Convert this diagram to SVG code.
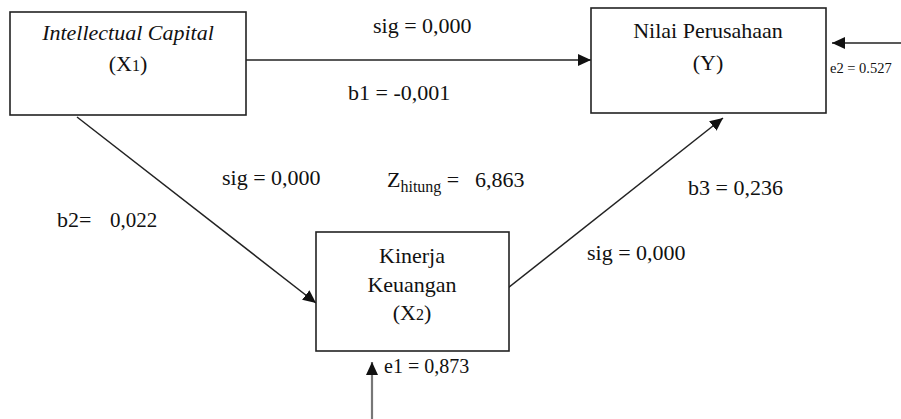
<svg xmlns="http://www.w3.org/2000/svg" width="901" height="419" viewBox="0 0 901 419">
  <defs>
    <marker id="arrow" markerUnits="userSpaceOnUse" markerWidth="14" markerHeight="12" refX="13" refY="6" orient="auto">
      <path d="M0,0 L13,6 L0,12 z" fill="#111"/>
    </marker>
    <style>
      .box { fill: #fff; stroke: #222; stroke-width: 1.6; }
      .txt { fill: #111; font-family: "Liberation Serif", "Times New Roman", serif; }
      .node { font-size: 22px; text-anchor: middle; }
      .lbl { font-size: 22px; }
      .edge { stroke: #222; stroke-width: 1.5; fill: none; marker-end: url(#arrow); }
      .err { stroke: #777; stroke-width: 2.2; fill: none; marker-end: url(#arrow); }
    </style>
  </defs>

  <rect width="901" height="419" fill="#fff"/>

  <!-- connectors -->
  <g id="connectors">
    <line class="edge" x1="246" y1="60" x2="591" y2="60"/>
    <line class="edge" x1="77" y1="117" x2="316" y2="303"/>
    <line class="edge" x1="508" y1="288" x2="723" y2="118"/>
    <line class="edge" x1="901" y1="43" x2="832" y2="43"/>
    <line class="err" x1="372" y1="419" x2="372" y2="362"/>
  </g>

  <!-- nodes -->
  <g id="node-x1">
    <rect class="box" x="10" y="12" width="236" height="103"/>
    <text class="txt node" x="128" y="40" font-style="italic" font-size="24">Intellectual Capital</text>
    <text class="txt node" x="128" y="71">(X<tspan font-size="16">1</tspan>)</text>
  </g>

  <g id="node-y">
    <rect class="box" x="591" y="8" width="235" height="105"/>
    <text class="txt node" x="708" y="38">Nilai Perusahaan</text>
    <text class="txt node" x="708" y="70">(Y)</text>
  </g>

  <g id="node-x2">
    <rect class="box" x="316" y="232" width="193" height="119"/>
    <text class="txt node" x="412" y="263" font-size="23">Kinerja</text>
    <text class="txt node" x="412" y="292" font-size="23">Keuangan</text>
    <text class="txt node" x="412" y="320" font-size="23">(X<tspan font-size="16">2</tspan>)</text>
  </g>

  <!-- path labels -->
  <g id="labels">
    <text class="txt lbl" x="373" y="33">sig = 0,000</text>
    <text class="txt lbl" x="348" y="100">b1 = -0,001</text>
    <text class="txt lbl" x="222" y="185">sig = 0,000</text>
    <text class="txt lbl" x="387" y="187">Z<tspan font-size="16" y="192">hitung</tspan><tspan y="187"> = </tspan><tspan x="475" y="187">6,863</tspan></text>
    <text class="txt lbl" x="57" y="227">b2=</text>
    <text class="txt" x="110" y="227" font-size="21">0,022</text>
    <text class="txt lbl" x="688" y="195">b3 = 0,236</text>
    <text class="txt lbl" x="587" y="260">sig = 0,000</text>
    <text class="txt" x="384" y="373" font-size="20">e1 = 0,873</text>
    <text class="txt" x="830" y="73" font-size="14.5">e2 = 0.527</text>
  </g>
</svg>
